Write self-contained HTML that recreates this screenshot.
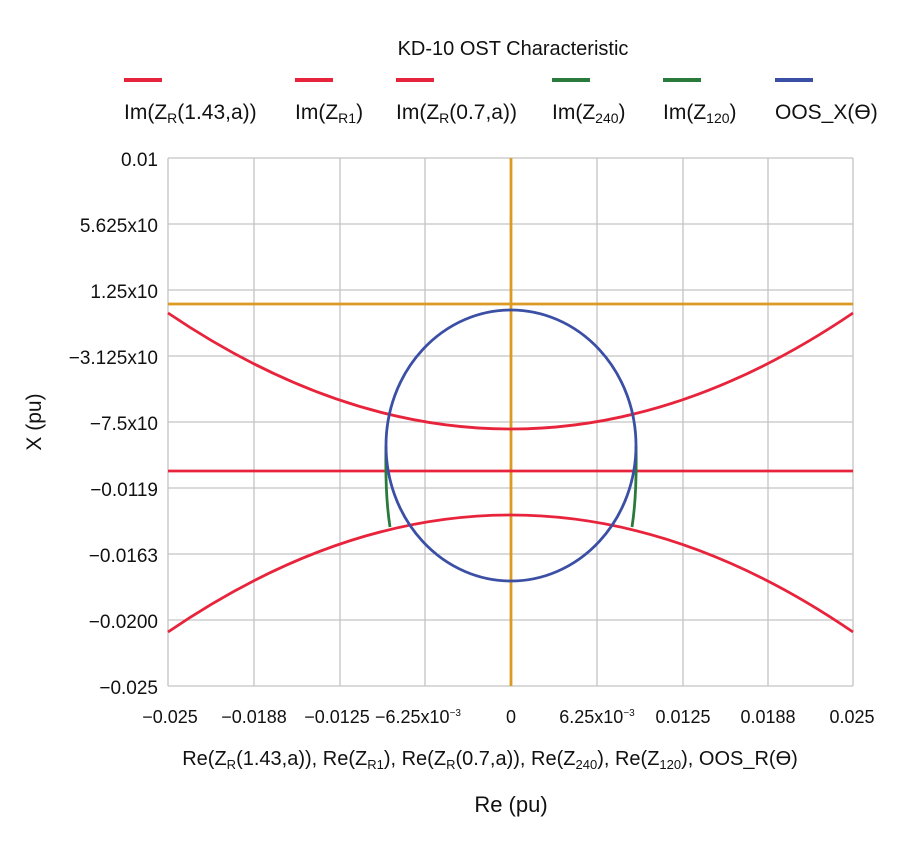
<!DOCTYPE html>
<html><head><style>
body{margin:0;background:#fff;}
svg text{font-family:"Liberation Sans",sans-serif;fill:#111;}
</style></head><body>
<svg width="900" height="841" viewBox="0 0 900 841" xmlns="http://www.w3.org/2000/svg">
<text x="513" y="55" font-size="20" text-anchor="middle">KD-10 OST Characteristic</text>
<g stroke-width="4">
<line x1="124" y1="80" x2="162" y2="80" stroke="#e8243c"/>
<line x1="295" y1="80" x2="333" y2="80" stroke="#e8243c"/>
<line x1="396" y1="80" x2="434" y2="80" stroke="#e8243c"/>
<line x1="552" y1="80" x2="590" y2="80" stroke="#2a7a3c"/>
<line x1="663" y1="80" x2="701" y2="80" stroke="#2a7a3c"/>
<line x1="775" y1="80" x2="813" y2="80" stroke="#3b4fa5"/>
</g>
<g font-size="21">
<text x="124" y="119">Im(Z<tspan font-size="14" dy="4">R</tspan><tspan dy="-4">(1.43,a))</tspan></text>
<text x="295" y="119">Im(Z<tspan font-size="14" dy="4">R1</tspan><tspan dy="-4">)</tspan></text>
<text x="396" y="119">Im(Z<tspan font-size="14" dy="4">R</tspan><tspan dy="-4">(0.7,a))</tspan></text>
<text x="552" y="119">Im(Z<tspan font-size="14" dy="4">240</tspan><tspan dy="-4">)</tspan></text>
<text x="663" y="119">Im(Z<tspan font-size="14" dy="4">120</tspan><tspan dy="-4">)</tspan></text>
<text x="775" y="119">OOS_X(ϴ)</text>
</g>
<g stroke="#c4c4c4" stroke-width="1.3">
<line x1="168" y1="158" x2="853" y2="158"/><line x1="168" y1="224" x2="853" y2="224"/>
<line x1="168" y1="290" x2="853" y2="290"/><line x1="168" y1="356" x2="853" y2="356"/>
<line x1="168" y1="422" x2="853" y2="422"/><line x1="168" y1="488" x2="853" y2="488"/>
<line x1="168" y1="554" x2="853" y2="554"/><line x1="168" y1="620" x2="853" y2="620"/>
<line x1="168" y1="686" x2="853" y2="686"/>
<line x1="168" y1="158" x2="168" y2="686"/><line x1="254" y1="158" x2="254" y2="686"/>
<line x1="340" y1="158" x2="340" y2="686"/><line x1="425" y1="158" x2="425" y2="686"/>
<line x1="511" y1="158" x2="511" y2="686"/><line x1="597" y1="158" x2="597" y2="686"/>
<line x1="683" y1="158" x2="683" y2="686"/><line x1="768" y1="158" x2="768" y2="686"/>
<line x1="853" y1="158" x2="853" y2="686"/>
</g>
<g fill="none" stroke-width="2.8">
<line x1="168" y1="304" x2="853" y2="304" stroke="#dc9a22"/>
<line x1="511" y1="158" x2="511" y2="686" stroke="#dc9a22"/>
<line x1="168" y1="471" x2="853" y2="471" stroke="#e8243c"/>
<path d="M168,313 Q511,545 853,313" stroke="#e8243c"/>
<path d="M168,632 Q511,398 853,632" stroke="#e8243c"/>
<path d="M386,446 Q385,495 390,527" stroke="#2a7a3c"/>
<path d="M636,446 Q637,495 632,527" stroke="#2a7a3c"/>
<ellipse cx="511" cy="445.5" rx="125" ry="135.5" stroke="#3b4fa5"/>
</g>
<g font-size="19" text-anchor="end">
<text x="158" y="166">0.01</text>
<text x="158" y="232">5.625x10</text>
<text x="158" y="298">1.25x10</text>
<text x="158" y="364">−3.125x10</text>
<text x="158" y="430">−7.5x10</text>
<text x="158" y="496">−0.0119</text>
<text x="158" y="562">−0.0163</text>
<text x="158" y="628">−0.0200</text>
<text x="158" y="694">−0.025</text>
</g>
<g font-size="18" text-anchor="middle">
<text x="170" y="723">−0.025</text>
<text x="254" y="723">−0.0188</text>
<text x="337" y="723">−0.0125</text>
<text x="418" y="723">−6.25x10<tspan font-size="10" dy="-7">−3</tspan></text>
<text x="511" y="723">0</text>
<text x="597" y="723">6.25x10<tspan font-size="10" dy="-7">−3</tspan></text>
<text x="683" y="723">0.0125</text>
<text x="768" y="723">0.0188</text>
<text x="852" y="723">0.025</text>
</g>
<text x="490" y="765" font-size="20" text-anchor="middle">Re(Z<tspan font-size="13" dy="4">R</tspan><tspan dy="-4">(1.43,a)), Re(Z</tspan><tspan font-size="13" dy="4">R1</tspan><tspan dy="-4">), Re(Z</tspan><tspan font-size="13" dy="4">R</tspan><tspan dy="-4">(0.7,a)), Re(Z</tspan><tspan font-size="13" dy="4">240</tspan><tspan dy="-4">), Re(Z</tspan><tspan font-size="13" dy="4">120</tspan><tspan dy="-4">), OOS_R(ϴ)</tspan></text>
<text x="511" y="812" font-size="22" text-anchor="middle">Re (pu)</text>
<text transform="translate(41,422) rotate(-90)" font-size="21" text-anchor="middle">X (pu)</text>
</svg>
</body></html>
